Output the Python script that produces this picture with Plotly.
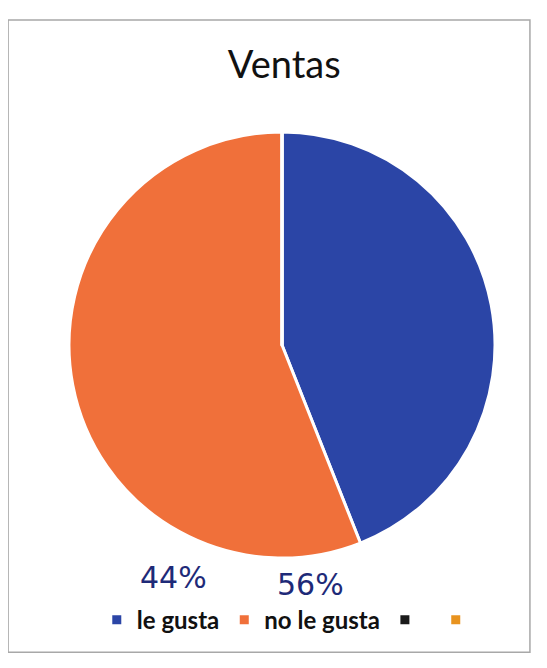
import plotly.graph_objects as go

labels = ["le gusta", "no le gusta", " ", "  "]
values = [44, 56, 0, 0]
colors = ["#2b45a6", "#f0703a", "#1a1a1a", "#e8931f"]
handwritten = ["44%", "56%"]

W, H = 547, 668

fig = go.Figure(go.Pie(
    labels=labels,
    values=values,
    sort=False,
    direction="clockwise",
    rotation=0,
    textinfo="none",
    hoverinfo="label+percent",
    marker=dict(colors=colors, line=dict(color="white", width=3)),
))

fig.update_layout(
    width=W, height=H,
    paper_bgcolor="white",
    plot_bgcolor="white",
    margin=dict(l=61, r=60, t=124, b=118, autoexpand=False),
    title=dict(text="Ventas", x=0.505, xanchor="center", y=0.915, yanchor="middle",
               font=dict(family="Lato", size=38, color="#111111")),
    showlegend=True,
    legend=dict(orientation="h", x=0.53, xanchor="center", y=-0.146, yanchor="middle",
                font=dict(family="Lato", size=24, color="#111111", weight="bold"),
                itemwidth=30, tracegroupgap=0),
    font=dict(family="Lato"),
)

# handwritten percentages
fig.add_annotation(x=0.246, y=-0.045, xref="paper", yref="paper", text=handwritten[0],
                   xanchor="center", yanchor="middle",
                   showarrow=False, font=dict(family="DejaVu Sans", size=30, color="#1e2a78"))
fig.add_annotation(x=0.566, y=-0.063, xref="paper", yref="paper", text=handwritten[1],
                   xanchor="center", yanchor="middle",
                   showarrow=False, font=dict(family="DejaVu Sans", size=30, color="#1e2a78"))

# frame of the printed chart
fig.add_shape(type="rect", xref="paper", yref="paper",
              x0=-0.143, x1=1.082, y0=-0.221, y1=1.263,
              line=dict(color="#a8a8a8", width=1.5), layer="below")

fig.write_html("out.html")
